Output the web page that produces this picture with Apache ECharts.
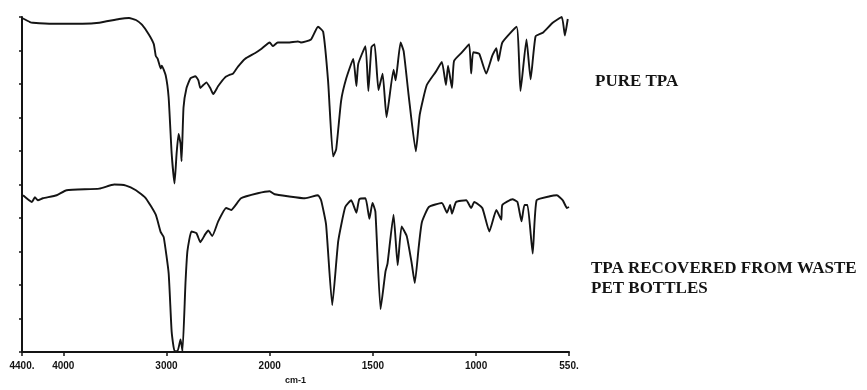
<!DOCTYPE html>
<html>
<head>
<meta charset="utf-8">
<title>FTIR - TPA</title>
<script src="https://cdn.jsdelivr.net/npm/echarts@6/dist/echarts.min.js"></script>
<style>
  html, body { margin: 0; padding: 0; background: #fff; }
  #chart { width: 867px; height: 390px; }
</style>
</head>
<body>
<div id="chart"></div>
<script>
// wavenumber ticks of the spectrometer chart paper (scale doubles below 2000 cm-1)
const tickWavenumbers = [4400, 4000, 3000, 2000, 1500, 1000, 550];
const tickLabels = ['4400.', '4000', '3000', '2000', '1500', '1000', '550.'];

// PURE TPA (upper trace), transmittance in chart divisions 0..10
const pureWavenumber = [4400, 4323, 4294, 4102, 3814, 3651, 3459, 3363, 3296, 3238, 3171, 3123, 3104, 3085, 3056, 3046, 3008, 2979, 2950, 2922, 2902, 2883, 2864, 2854, 2835, 2806, 2768, 2720, 2691, 2672, 2643, 2614, 2576, 2547, 2499, 2432, 2384, 2355, 2307, 2240, 2144, 2086, 2000, 1985, 1961, 1912, 1863, 1849, 1800, 1766, 1741, 1717, 1693, 1678, 1654, 1629, 1595, 1580, 1571, 1536, 1522, 1507, 1492, 1473, 1453, 1434, 1400, 1390, 1366, 1351, 1327, 1292, 1273, 1239, 1195, 1166, 1146, 1136, 1117, 1107, 1068, 1034, 1024, 1014, 985, 951, 922, 902, 892, 873, 804, 785, 756, 736, 712, 677, 629, 585, 570, 556];
const pureTransmittance = [9.97, 9.85, 9.83, 9.80, 9.80, 9.83, 9.94, 9.97, 9.91, 9.77, 9.48, 9.19, 8.84, 8.75, 8.46, 8.55, 8.26, 7.59, 5.93, 5.03, 5.93, 6.51, 6.22, 5.70, 7.30, 7.88, 8.17, 8.23, 8.11, 7.88, 7.97, 8.05, 7.88, 7.70, 7.94, 8.20, 8.28, 8.31, 8.52, 8.75, 8.92, 9.04, 9.24, 9.13, 9.24, 9.24, 9.27, 9.24, 9.33, 9.71, 9.56, 8.08, 5.84, 6.05, 7.50, 8.17, 8.75, 7.94, 8.60, 9.13, 7.79, 9.10, 9.19, 7.82, 8.31, 7.01, 8.43, 8.11, 9.24, 8.98, 7.67, 5.99, 7.09, 7.97, 8.37, 8.66, 7.97, 8.55, 7.88, 8.69, 8.95, 9.19, 8.31, 8.95, 8.90, 8.31, 8.84, 9.07, 8.69, 9.24, 9.71, 7.79, 9.33, 8.14, 9.42, 9.53, 9.83, 10.0, 9.45, 9.94];

// TPA RECOVERED FROM WASTE PET BOTTLES (lower trace)
const recoveredWavenumber = [4390, 4304, 4275, 4246, 4198, 4064, 3968, 3651, 3507, 3392, 3296, 3200, 3104, 3056, 3027, 2979, 2950, 2922, 2893, 2864, 2845, 2816, 2797, 2758, 2710, 2672, 2624, 2595, 2557, 2499, 2422, 2374, 2278, 2115, 2000, 1976, 1912, 1829, 1766, 1751, 1727, 1697, 1668, 1634, 1605, 1580, 1566, 1536, 1517, 1502, 1488, 1463, 1439, 1429, 1400, 1380, 1361, 1336, 1312, 1297, 1278, 1263, 1229, 1166, 1141, 1126, 1117, 1097, 1048, 1024, 1009, 970, 936, 902, 878, 873, 824, 800, 780, 766, 751, 726, 707, 643, 609, 580, 560, 550];
const recoveredTransmittance = [4.68, 4.48, 4.62, 4.53, 4.59, 4.68, 4.83, 4.88, 5.00, 4.97, 4.83, 4.59, 4.10, 3.58, 3.43, 2.35, 0.61, 0.03, 0.03, 0.38, 0.03, 2.06, 3.02, 3.60, 3.55, 3.28, 3.52, 3.63, 3.46, 3.90, 4.30, 4.24, 4.59, 4.74, 4.80, 4.71, 4.65, 4.59, 4.68, 4.53, 3.81, 1.40, 3.31, 4.33, 4.53, 4.16, 4.56, 4.59, 3.98, 4.45, 4.19, 1.28, 2.41, 2.65, 4.10, 2.59, 3.75, 3.46, 2.65, 2.06, 3.14, 3.87, 4.33, 4.45, 4.16, 4.39, 4.13, 4.48, 4.53, 4.30, 4.48, 4.30, 3.60, 4.24, 3.95, 4.39, 4.56, 4.48, 3.90, 4.39, 4.39, 2.94, 4.53, 4.65, 4.68, 4.53, 4.30, 4.33];

// chart paper position: 4400->2000 at one scale, 2000->550 at double scale
function paperPos(wn) {
  return wn >= 2000 ? 4400 - wn : 2400 + 2 * (2000 - wn);
}

function toSeries(wns, vals) {
  return wns.map((w, i) => [paperPos(w), vals[i]]);
}

const chart = echarts.init(document.getElementById('chart'));
const tickPos = tickWavenumbers.map(paperPos);
const ink = '#141414';
const labelFont = 'Liberation Sans Narrow, Liberation Sans, sans-serif';

chart.setOption({
  animation: false,
  grid: { left: 22, right: 298, top: 17, bottom: 29 },
  xAxis: {
    type: 'value',
    min: 0,
    max: paperPos(550),
    name: 'cm-1',
    nameLocation: 'middle',
    nameGap: 22,
    nameTextStyle: { color: ink, fontSize: 9, fontWeight: 'bold', fontFamily: labelFont },
    axisLine: { lineStyle: { color: ink, width: 2 } },
    axisTick: { customValues: tickPos, length: 4, lineStyle: { color: ink, width: 1.5 } },
    axisLabel: {
      customValues: tickPos,
      margin: 9,
      color: ink,
      fontSize: 10,
      fontWeight: 'bold',
      fontFamily: labelFont,
      formatter: v => tickLabels[tickPos.indexOf(v)]
    },
    splitLine: { show: false }
  },
  yAxis: {
    type: 'value',
    min: 0,
    max: 10,
    interval: 1,
    axisLine: { show: true, lineStyle: { color: ink, width: 2 } },
    axisTick: { show: true, length: 3, lineStyle: { color: ink, width: 1.5 } },
    axisLabel: { show: false },
    splitLine: { show: false }
  },
  series: [
    {
      name: 'PURE TPA',
      type: 'line',
      data: toSeries(pureWavenumber, pureTransmittance),
      showSymbol: false,
      clip: false,
      smooth: 0.15,
      lineStyle: { color: ink, width: 1.9 }
    },
    {
      name: 'TPA RECOVERED FROM WASTE PET BOTTLES',
      type: 'line',
      data: toSeries(recoveredWavenumber, recoveredTransmittance),
      showSymbol: false,
      clip: false,
      smooth: 0.15,
      lineStyle: { color: ink, width: 1.9 }
    }
  ],
  graphic: [
    {
      type: 'text', left: 595, top: 73,
      style: { text: 'PURE TPA', fill: ink, font: 'bold 17px "Liberation Serif", serif' }
    },
    {
      type: 'text', left: 591, top: 259,
      style: { text: 'TPA RECOVERED FROM WASTE\nPET BOTTLES', fill: ink, lineHeight: 20, font: 'bold 17px "Liberation Serif", serif' }
    }
  ]
});
</script>
</body>
</html>
